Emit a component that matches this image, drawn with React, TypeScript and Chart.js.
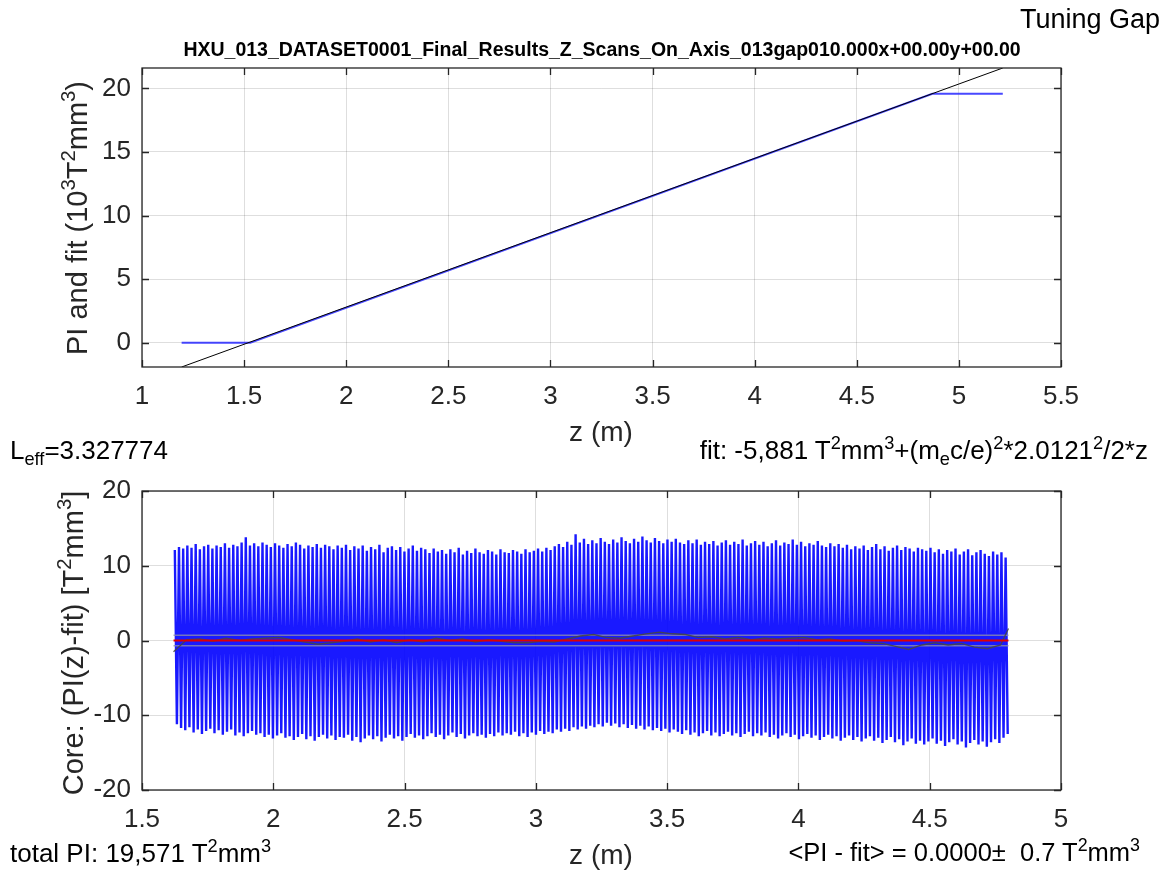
import React, { useEffect, useRef } from "react";
import { Chart, registerables } from "chart.js";
Chart.register(...registerables);

// ---------- top panel data ----------
const piZ = [1.194, 1.53, 4.87, 5.215];
const piVal = [0, 0, 19.571, 19.571];
const fitZ = [1.194, 5.215];
const fitVal = [-1.9, 21.6];
const topXTicks = [1, 1.5, 2, 2.5, 3, 3.5, 4, 4.5, 5, 5.5];
const topYTicks = [0, 5, 10, 15, 20];
const topXRange = [1, 5.5];
const topYRange = [-1.9, 21.6];

// ---------- bottom panel data ----------
const coreZStart = 1.625;
const coreStep = 0.0159;
const corePeaks = [
  12.1, 12.5, 12.3, 12.7, 12.4, 12.9, 12.2, 12.6, 12.8, 12.3, 12.7, 12.5, 13.0, 12.4, 12.8, 12.6, 13.1, 13.8, 12.7, 13.0,
  12.6, 13.1, 12.8, 12.5, 13.0, 12.7, 12.4, 12.9, 12.6, 13.1, 12.8, 12.3, 12.7, 12.5, 12.9, 12.4, 12.8, 12.6, 12.2, 12.7,
  12.4, 12.8, 12.1, 12.6, 12.3, 12.7, 12.0, 12.5, 12.2, 12.8, 11.8, 12.4, 12.6, 12.1, 12.5, 11.9, 12.3, 12.7, 12.0, 12.4,
  12.2, 11.7, 12.3, 11.9, 12.1, 11.6, 12.2, 11.8, 12.4, 11.5, 12.0, 11.7, 12.3, 11.8, 11.6, 12.1, 11.9, 11.5, 12.2, 11.8,
  11.7, 12.1, 11.9, 11.6, 12.2, 11.8, 12.0, 12.3, 11.9, 12.4, 12.1, 12.6, 12.9, 12.5, 13.2, 12.8, 14.2, 13.1, 13.6, 12.9,
  13.4, 13.0, 13.7, 13.2, 12.9, 13.5, 13.1, 13.8, 13.3, 13.0, 13.6, 13.2, 13.9, 13.4, 13.1, 13.7, 13.3, 13.0, 13.5, 13.2,
  13.6, 13.1, 12.9, 13.4, 13.0, 13.5, 12.8, 13.2, 12.9, 13.3, 12.7, 13.1, 13.4, 12.8, 13.2, 12.9, 13.5, 12.7, 13.0, 13.3,
  12.8, 13.2, 12.6, 13.0, 13.4, 12.7, 13.1, 12.9, 13.5, 12.8, 13.2, 12.6, 13.0, 12.8, 13.3, 12.7, 12.5, 13.0, 12.6, 12.9,
  12.4, 12.8, 12.2, 12.6, 12.3, 12.7, 12.1, 12.5, 12.9, 12.2, 12.6, 12.0, 12.4, 12.7, 12.1, 12.5, 12.3, 11.9, 12.4, 12.2,
  12.0, 12.4, 11.8, 12.2, 11.6, 12.1, 11.9, 12.3, 11.5, 11.9, 12.2, 11.4, 11.8, 12.1, 11.6, 11.3, 11.9, 11.5, 11.8, 11.1,
];
const coreTroughs = [
  -11.2, -11.7, -12.0, -11.6, -12.3, -11.9, -12.5, -12.1, -11.8, -12.4, -12.0, -12.6, -12.2, -11.9, -12.7, -12.3, -12.8, -12.4, -12.1, -12.6,
  -12.4, -12.9, -12.6, -13.1, -12.7, -12.4, -13.0, -12.8, -13.3, -12.9, -12.5, -13.2, -12.8, -13.4, -12.9, -12.6, -13.1, -12.7, -13.3, -12.9,
  -13.0, -12.6, -13.4, -12.9, -13.6, -13.1, -12.7, -13.2, -12.8, -13.5, -13.0, -12.6, -13.1, -12.8, -13.4, -12.9, -12.5, -13.0, -12.7, -13.2,
  -12.8, -12.4, -12.9, -12.6, -13.2, -12.7, -12.3, -12.9, -12.5, -13.1, -12.7, -12.4, -12.8, -12.6, -13.0, -12.5, -12.8, -12.3, -12.7, -12.4,
  -12.6, -12.2, -12.8, -12.4, -12.9, -12.3, -12.6, -12.1, -12.5, -12.2, -12.4, -11.9, -12.2, -11.8, -12.1, -11.6, -11.9, -11.5, -11.8, -11.4,
  -11.6, -11.2, -11.5, -11.0, -11.4, -11.1, -11.6, -11.2, -11.7, -11.3, -11.8, -11.4, -11.9, -11.5, -12.0, -11.7, -12.1, -11.8, -12.3, -11.9,
  -12.2, -12.5, -12.0, -12.6, -12.3, -12.8, -12.4, -12.1, -12.7, -12.3, -12.8, -12.5, -12.2, -12.7, -12.4, -12.9, -12.5, -12.2, -12.8, -12.4,
  -12.7, -12.3, -12.9, -12.6, -13.1, -12.7, -12.4, -12.9, -12.6, -13.2, -12.8, -12.5, -13.0, -12.7, -13.3, -12.9, -12.6, -13.1, -12.8, -13.4,
  -13.0, -12.7, -13.3, -12.9, -13.5, -13.1, -12.8, -13.4, -13.0, -13.7, -13.3, -12.9, -13.6, -13.2, -14.0, -13.5, -13.1, -13.8, -13.4, -13.9,
  -13.5, -13.1, -13.8, -13.4, -14.1, -13.6, -13.2, -13.9, -13.5, -14.3, -13.7, -13.3, -13.9, -13.5, -14.2, -13.6, -13.2, -13.7, -13.0, -12.5,
];
const meanZ = [
  1.62, 1.67, 1.72, 1.77, 1.82, 1.87, 1.92, 1.97, 2.02, 2.07,
  2.12, 2.17, 2.22, 2.27, 2.32, 2.37, 2.42, 2.47, 2.52, 2.57,
  2.62, 2.67, 2.72, 2.77, 2.82, 2.87, 2.92, 2.97, 3.02, 3.07,
  3.12, 3.17, 3.22, 3.27, 3.32, 3.37, 3.42, 3.47, 3.52, 3.57,
  3.62, 3.67, 3.72, 3.77, 3.82, 3.87, 3.92, 3.97, 4.02, 4.07,
  4.12, 4.17, 4.22, 4.27, 4.32, 4.37, 4.42, 4.47, 4.52, 4.57,
  4.62, 4.67, 4.72, 4.77, 4.8,
];
const meanVal = [
  -1.5, 0.1, 0.2, -0.1, 0.3, 0.0, 0.2, 0.3, 0.4, 0.1,
  -0.2, -0.5, -0.3, -0.1, 0.2, -0.2, 0.1, -0.3, 0.1, -0.2,
  0.3, 0.0, 0.2, -0.2, 0.1, -0.1, -0.3, -0.3, -0.1, -0.2,
  0.2, 0.6, 0.8, 0.4, 0.3, 0.6, 0.9, 1.1, 0.9, 0.8,
  0.4, 0.5, 0.2, 0.4, 0.1, 0.3, 0.2, 0.3, 0.4, 0.1,
  0.2, -0.1, 0.0, -0.3, -0.4, -0.8, -1.2, -0.6, -0.3, -0.6,
  -0.4, -0.9, -1.1, -0.6, 1.6,
];
const sigma = 0.7;
const bandZ = [1.62, 4.8];
const botXTicks = [1.5, 2, 2.5, 3, 3.5, 4, 4.5, 5];
const botYTicks = [-20, -10, 0, 10, 20];
const botXRange = [1.5, 5];
const botYRange = [-20, 20];

const FONT = "'Liberation Sans', Arial, Helvetica, sans-serif";
const AX = "#262626";

const boxPlugin = {
  id: "box",
  afterDraw(chart: any) {
    const { ctx, chartArea: a, scales } = chart;
    ctx.save();
    ctx.strokeStyle = AX;
    ctx.lineWidth = 1.3;
    ctx.strokeRect(a.left, a.top, a.right - a.left, a.bottom - a.top);
    const tl = 7;
    ctx.beginPath();
    scales.x.ticks.forEach((t: any) => {
      const px = Math.round(scales.x.getPixelForValue(t.value)) + 0.5;
      ctx.moveTo(px, a.bottom);
      ctx.lineTo(px, a.bottom - tl);
      ctx.moveTo(px, a.top);
      ctx.lineTo(px, a.top + tl);
    });
    scales.y.ticks.forEach((t: any) => {
      const py = Math.round(scales.y.getPixelForValue(t.value)) + 0.5;
      ctx.moveTo(a.left, py);
      ctx.lineTo(a.left + tl, py);
      ctx.moveTo(a.right, py);
      ctx.lineTo(a.right - tl, py);
    });
    ctx.stroke();
    ctx.restore();
  },
};

function makeOptions(
  xr: number[], yr: number[], xt: number[], yt: number[],
  axisW: number, axisH: number, padTop: number, padRight: number
) {
  return {
    responsive: false,
    animation: false as const,
    devicePixelRatio: 1,
    layout: { padding: { left: 0, right: padRight, top: padTop, bottom: 0 } },
    plugins: { legend: { display: false }, tooltip: { enabled: false }, title: { display: false } },
    elements: { point: { radius: 0 }, line: { tension: 0 } },
    scales: {
      x: {
        type: "linear" as const,
        min: xr[0],
        max: xr[1],
        afterBuildTicks: (s: any) => { s.ticks = xt.map((v) => ({ value: v })); },
        afterFit: (s: any) => { s.height = axisH; },
        border: { display: false },
        grid: { color: "rgba(0,0,0,0.13)", lineWidth: 1, drawTicks: false },
        ticks: {
          autoSkip: false, maxRotation: 0, padding: 14, color: AX,
          font: { family: FONT, size: 26 },
          callback: (v: any) => String(v),
        },
      },
      y: {
        type: "linear" as const,
        min: yr[0],
        max: yr[1],
        afterBuildTicks: (s: any) => { s.ticks = yt.map((v) => ({ value: v })); },
        afterFit: (s: any) => { s.width = axisW; },
        border: { display: false },
        grid: { color: "rgba(0,0,0,0.13)", lineWidth: 1, drawTicks: false },
        ticks: {
          padding: 11, color: AX,
          font: { family: FONT, size: 26 },
          callback: (v: any) => String(v),
        },
      },
    },
  };
}

function TopChart() {
  const ref = useRef<HTMLCanvasElement>(null);
  useEffect(() => {
    const piData = piZ.map((z, i) => ({ x: z, y: piVal[i] }));
    const fitData = fitZ.map((z, i) => ({ x: z, y: fitVal[i] }));
    const chart = new Chart(ref.current!, {
      type: "line",
      data: {
        datasets: [
          { data: fitData, borderColor: "#000000", borderWidth: 1, pointRadius: 0, order: 1 },
          { data: piData, borderColor: "rgba(40,40,255,0.85)", borderWidth: 2, pointRadius: 0, order: 2 },
        ],
      },
      options: makeOptions(topXRange, topYRange, topXTicks, topYTicks, 142, 420 - 367, 68, 1176 - 1061) as any,
      plugins: [boxPlugin],
    });
    return () => chart.destroy();
  }, []);
  return <canvas ref={ref} width={1176} height={420} style={{ position: "absolute", left: 0, top: 0 }} />;
}

function BottomChart() {
  const ref = useRef<HTMLCanvasElement>(null);
  useEffect(() => {
    const core: { x: number; y: number }[] = [];
    corePeaks.forEach((p, i) => {
      core.push({ x: coreZStart + i * coreStep, y: p });
      core.push({ x: coreZStart + (i + 0.5) * coreStep, y: coreTroughs[i] });
    });
    const mean = meanZ.map((z, i) => ({ x: z, y: meanVal[i] }));
    const hi = bandZ.map((z) => ({ x: z, y: sigma }));
    const lo = bandZ.map((z) => ({ x: z, y: -sigma }));
    const zero = bandZ.map((z) => ({ x: z, y: 0 }));
    const chart = new Chart(ref.current!, {
      type: "line",
      data: {
        datasets: [
          { data: zero, borderColor: "#e00000", borderWidth: 2, pointRadius: 0, order: 1 },
          { data: mean, borderColor: "rgba(70,70,70,0.9)", borderWidth: 1.3, pointRadius: 0, order: 2 },
          { data: hi, borderColor: "rgba(140,140,170,0.8)", borderWidth: 1.5, pointRadius: 0, order: 3 },
          { data: lo, borderColor: "rgba(140,140,170,0.8)", borderWidth: 1.5, pointRadius: 0, order: 3 },
          { data: core, borderColor: "rgba(0,0,255,0.9)", borderWidth: 2.4, borderJoinStyle: "bevel", pointRadius: 0, order: 4 },
        ],
      },
      options: makeOptions(botXRange, botYRange, botXTicks, botYTicks, 142, 453 - 370, 71, 1176 - 1061) as any,
      plugins: [boxPlugin],
    });
    return () => chart.destroy();
  }, []);
  return <canvas ref={ref} width={1176} height={453} style={{ position: "absolute", left: 0, top: 420 }} />;
}

const txt: React.CSSProperties = {
  position: "absolute",
  fontFamily: FONT,
  color: AX,
  whiteSpace: "nowrap",
  lineHeight: 1,
};
const sup: React.CSSProperties = { fontSize: "0.7em", verticalAlign: "0.55em", lineHeight: 0 };
const sub: React.CSSProperties = { fontSize: "0.7em", verticalAlign: "-0.35em", lineHeight: 0 };

export default function App() {
  useEffect(() => {
    document.body.style.margin = "0";
  }, []);
  return (
    <div style={{ position: "relative", width: 1176, height: 873, background: "#fff", overflow: "hidden" }}>
      <TopChart />
      <BottomChart />
      <div style={{ ...txt, right: 16, top: 6, fontSize: 27, color: "#000" }}>Tuning Gap</div>
      <div style={{ ...txt, left: 602, top: 50, transform: "translate(-50%,-50%)", fontSize: 19.5, fontWeight: "bold", color: "#000" }}>
        HXU_013_DATASET0001_Final_Results_Z_Scans_On_Axis_013gap010.000x+00.00y+00.00
      </div>
      <div style={{ ...txt, left: 77, top: 218, transform: "translate(-50%,-50%) rotate(-90deg)", fontSize: 29 }}>
        PI and fit (10<span style={sup}>3</span>T<span style={sup}>2</span>mm<span style={sup}>3</span>)
      </div>
      <div style={{ ...txt, left: 601, top: 432, transform: "translate(-50%,-50%)", fontSize: 28 }}>z (m)</div>
      <div style={{ ...txt, left: 10, top: 437, fontSize: 26, color: "#000" }}>
        L<span style={sub}>eff</span>=3.327774
      </div>
      <div style={{ ...txt, right: 28, top: 437, fontSize: 26, color: "#000" }}>
        fit: -5,881 T<span style={sup}>2</span>mm<span style={sup}>3</span>+(m<span style={sub}>e</span>c/e)<span style={sup}>2</span>*2.0121<span style={sup}>2</span>/2*z
      </div>
      <div style={{ ...txt, left: 73, top: 643, transform: "translate(-50%,-50%) rotate(-90deg)", fontSize: 29 }}>
        Core: (PI(z)-fit) [T<span style={sup}>2</span>mm<span style={sup}>3</span>]
      </div>
      <div style={{ ...txt, left: 10, top: 840, fontSize: 26, color: "#000" }}>
        total PI: 19,571 T<span style={sup}>2</span>mm<span style={sup}>3</span>
      </div>
      <div style={{ ...txt, left: 601, top: 855, transform: "translate(-50%,-50%)", fontSize: 28 }}>z (m)</div>
      <div style={{ ...txt, right: 36, top: 840, fontSize: 25.5, color: "#000" }}>
        &lt;PI - fit&gt; = 0.0000±&nbsp; 0.7 T<span style={sup}>2</span>mm<span style={sup}>3</span>
      </div>
    </div>
  );
}
